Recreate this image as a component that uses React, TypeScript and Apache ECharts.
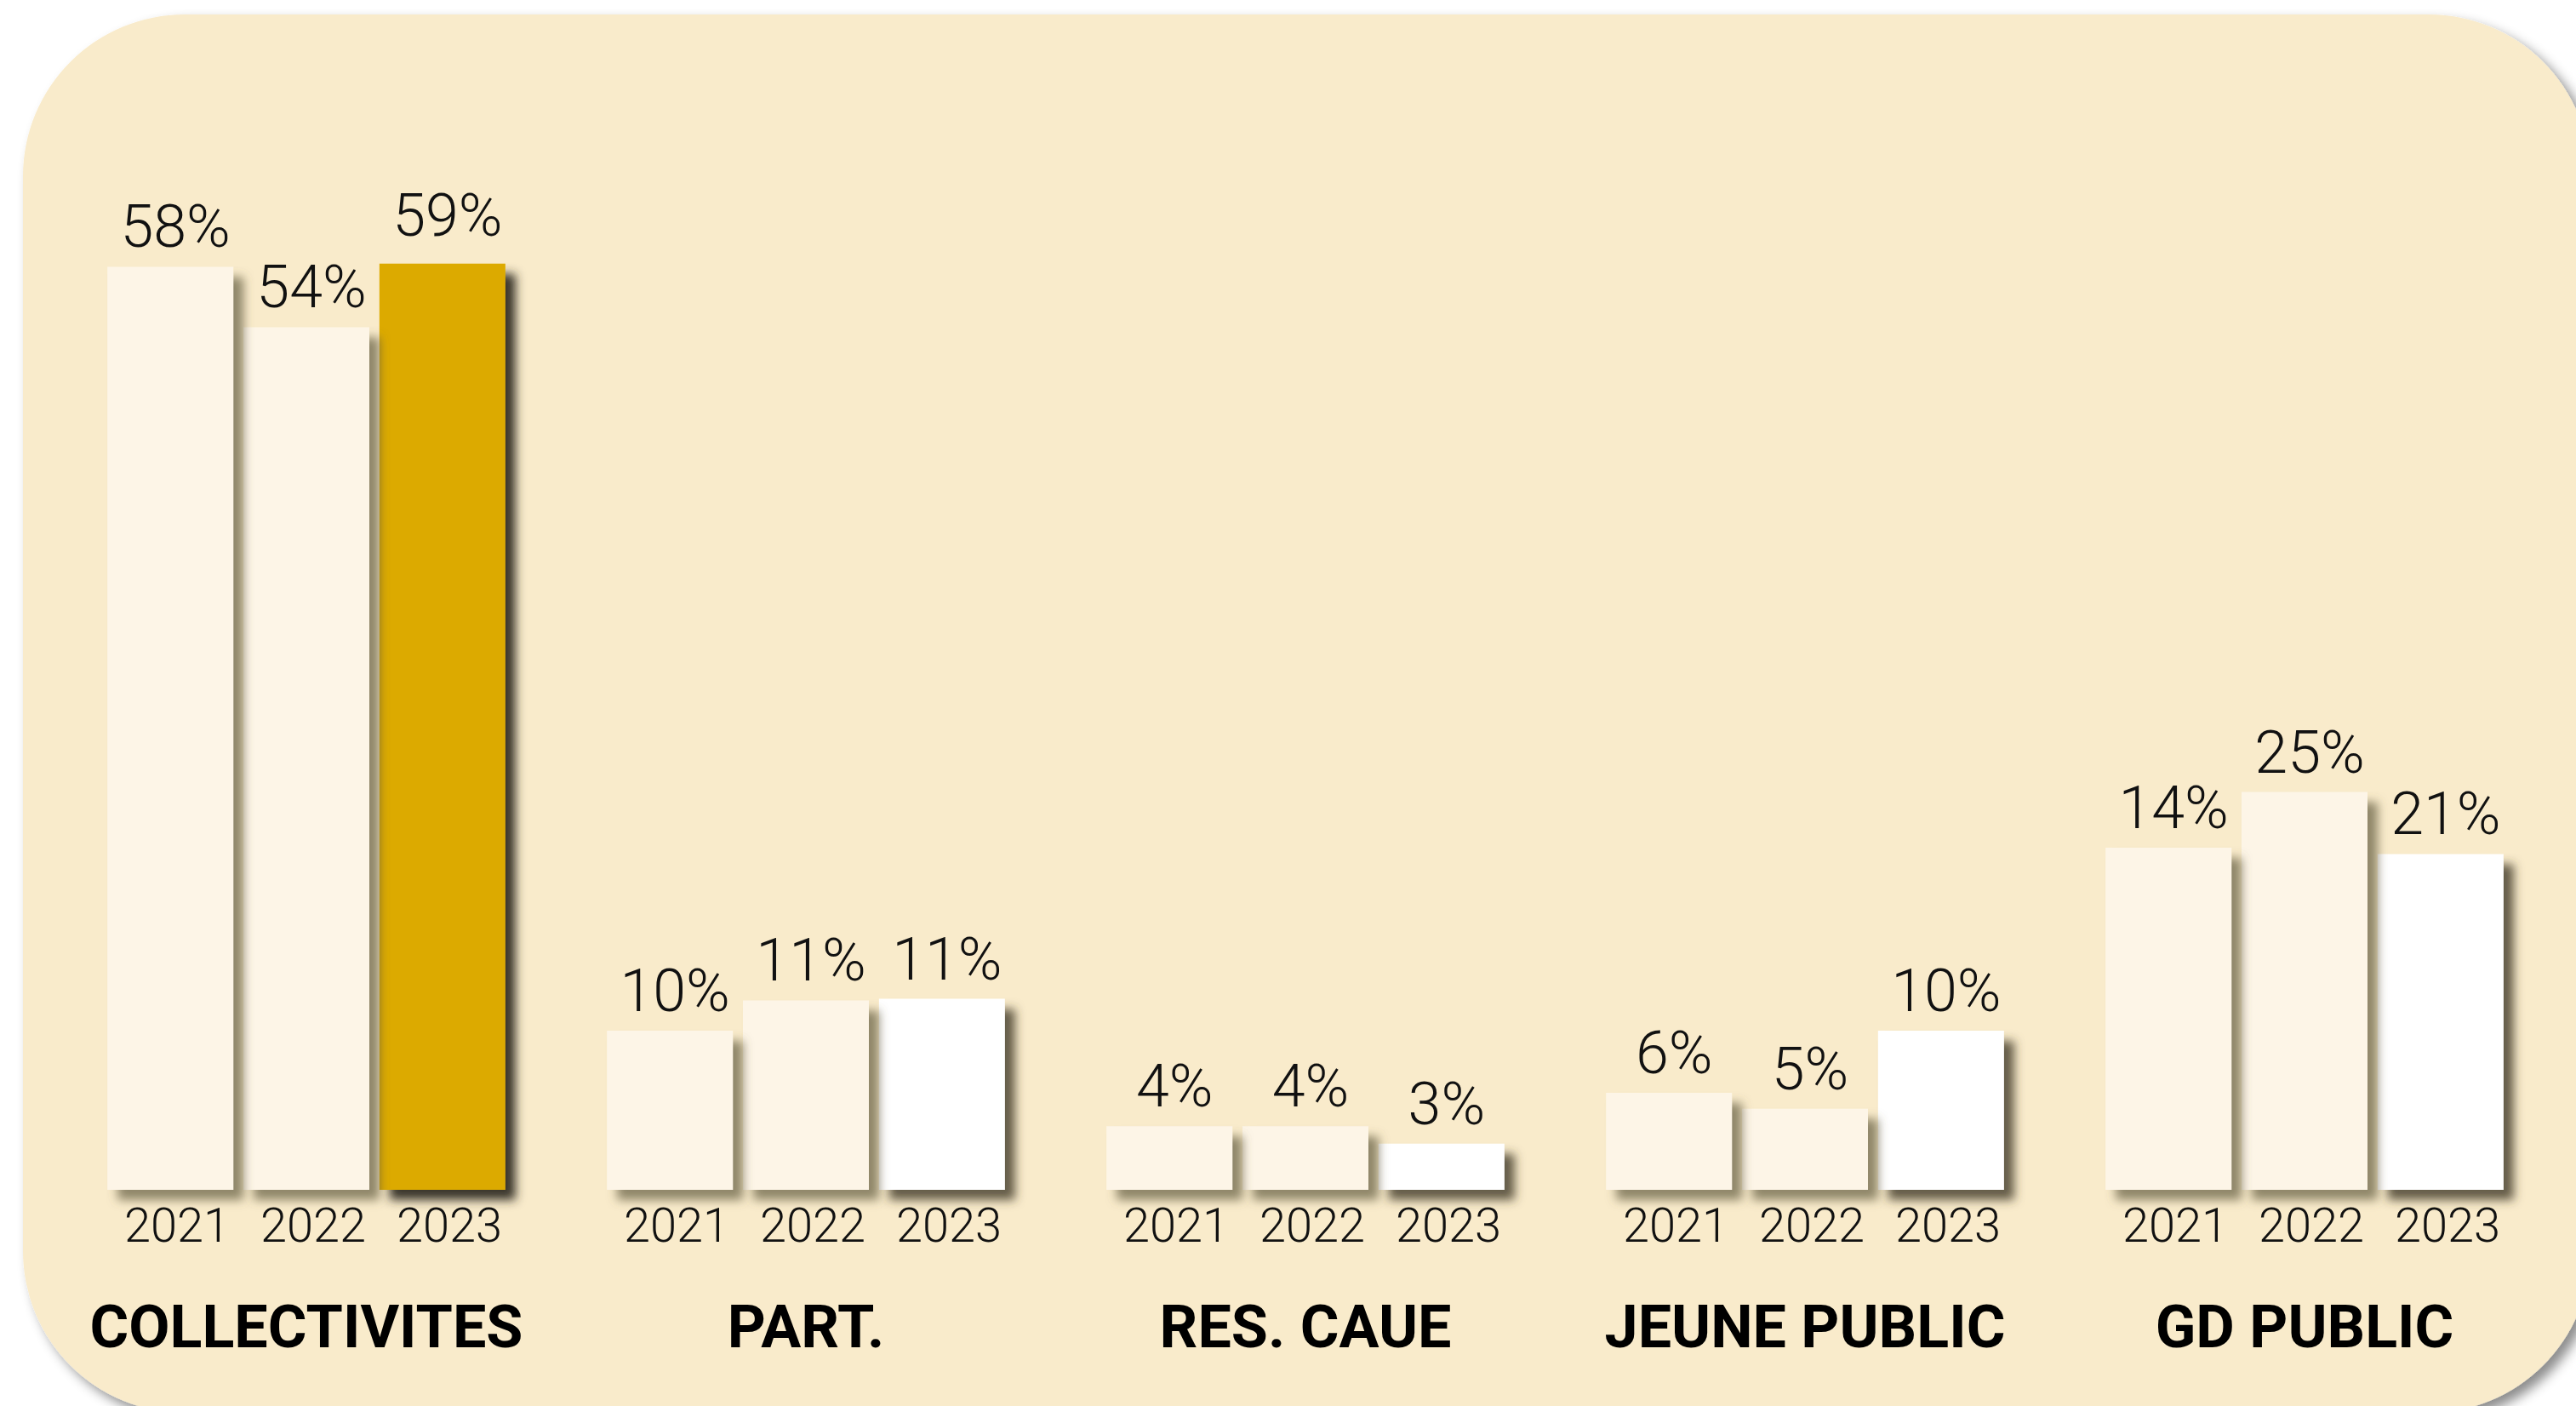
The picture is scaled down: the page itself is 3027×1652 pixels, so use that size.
import React, { useEffect, useRef } from "react";
import * as echarts from "echarts";

const categories = ["COLLECTIVITES", "PART.", "RES. CAUE", "JEUNE PUBLIC", "GD PUBLIC"];
const years = ["2021", "2022", "2023"];

// percentages printed above the bars
const labels2021 = [58, 10, 4, 6, 14];
const labels2022 = [54, 11, 4, 5, 25];
const labels2023 = [59, 11, 3, 10, 21];

// bar heights (in %) as drawn in the original graphic
const heights2021 = [58, 10, 4, 6.1, 21.5];
const heights2022 = [54.2, 11.9, 4, 5.1, 25];
const heights2023 = [58.2, 12, 2.9, 10, 21.1];

const BG = "#F9EBCB";
const CREAM = "#FDF5E7";
const WHITE = "#FFFFFF";
const GOLD = "#DCAA00";
const FONT = "Roboto, 'Noto Sans', sans-serif";

export default function App() {
  const ref = useRef<HTMLDivElement>(null);

  useEffect(() => {
    if (!ref.current) return;
    const chart = echarts.init(ref.current, undefined, { renderer: "svg" });

    const labelSets = [labels2021, labels2022, labels2023];
    const heightSets = [heights2021, heights2022, heights2023];

    const series = years.map((yr, si) => {
      const data = heightSets[si].map((v, i) => {
        if (si === 2 && i === 0) {
          return {
            value: v,
            itemStyle: { color: GOLD, shadowColor: "rgba(45,42,32,0.95)" },
            label: { distance: 22 },
          };
        }
        return v;
      });
      return {
        name: yr,
        type: "bar",
        data,
        z: 5 - si,
        barWidth: 148,
        barGap: "8%",
        itemStyle: {
          color: si === 2 ? WHITE : CREAM,
          shadowColor: si === 2 ? "rgba(60,55,40,0.8)" : "rgba(100,92,65,0.7)",
          shadowBlur: 12,
          shadowOffsetX: 12,
          shadowOffsetY: 12,
        },
        label: {
          show: true,
          position: "top",
          distance: 12,
          offset: [6, 0],
          formatter: (p: any) => `${labelSets[si][p.dataIndex]}%`,
          fontSize: 70,
          lineHeight: 70,
          fontFamily: FONT,
          fontWeight: 300,
          color: "#111",
        },
      };
    });

    const yearsText = years.map((y) => `{y|${y}}`).join("");

    chart.setOption({
      animation: false,
      backgroundColor: "#FFFFFF",
      graphic: [
        {
          type: "rect",
          z: 0,
          shape: { x: 27, y: 17, width: 3017, height: 1643, r: 190 },
          style: {
            fill: BG,
            shadowBlur: 14,
            shadowOffsetX: 8,
            shadowOffsetY: 8,
            shadowColor: "rgba(0,0,0,0.45)",
          },
        },
      ],
      grid: { left: 66.5, right: 25.5, top: 276, bottom: 254, containLabel: false },
      xAxis: [
        {
          type: "category",
          data: categories,
          axisLine: { show: false },
          axisTick: { show: false },
          axisLabel: {
            interval: 0,
            margin: 14,
            padding: [0, 0, 0, 16],
            formatter: () => yearsText,
            rich: {
              y: {
                width: 160,
                align: "center",
                fontSize: 56,
                lineHeight: 56,
                fontFamily: FONT,
                fontWeight: 300,
                color: "#111",
              },
            },
          },
        },
        {
          type: "category",
          data: categories,
          position: "bottom",
          axisLine: { show: false },
          axisTick: { show: false },
          axisLabel: {
            interval: 0,
            margin: 126,
            fontSize: 70,
            lineHeight: 70,
            fontFamily: FONT,
            fontWeight: "bold",
            color: "#000",
          },
        },
      ],
      yAxis: {
        type: "value",
        min: 0,
        max: 60,
        show: false,
        splitLine: { show: false },
      },
      series,
    });

    return () => chart.dispose();
  }, []);

  return (
    <div
      ref={ref}
      style={{ position: "absolute", left: 0, top: 0, width: 3027, height: 1652 }}
    />
  );
}
